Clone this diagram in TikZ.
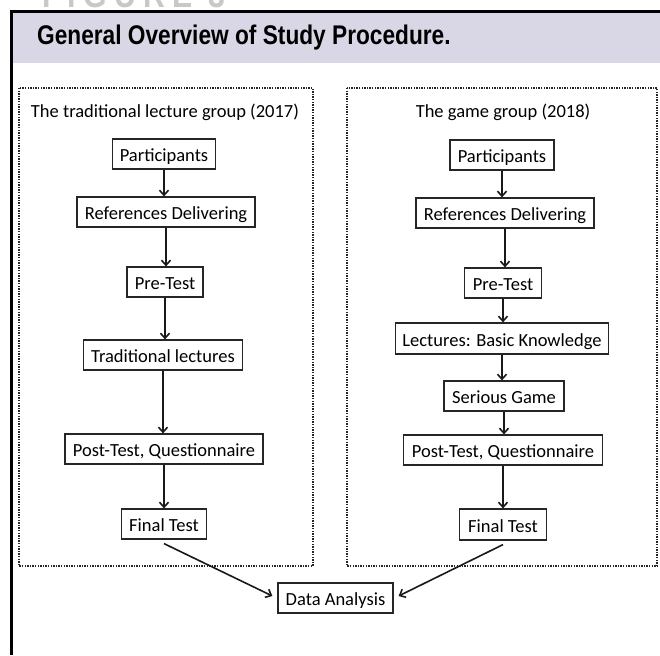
\documentclass[tikz,border=0pt]{standalone}
\usepackage{fontspec}
\setmainfont{Carlito}
\newfontfamily\titlefont[FakeStretch=0.84]{Liberation Sans}
\newfontfamily\figfont[FakeStretch=0.84,LetterSpace=20]{Liberation Sans}
\usetikzlibrary{arrows.meta}
\definecolor{band}{RGB}{217,215,229}
\definecolor{figgray}{RGB}{200,200,200}
\tikzset{
  stepbox/.style={draw=black!85, line width=1.2pt, inner sep=0pt, fill=white,
    font=\fontsize{18.5}{21}\selectfont, text height=15pt, text depth=0pt},
  grouptitle/.style={inner sep=0pt, font=\fontsize{18.5}{21}\selectfont},
  grpframe/.style={draw=black!85, line width=1.6pt, dash pattern=on 1.4pt off 1.2pt},
  arr/.style={draw=black!90, line width=1.6pt, -{Straight Barb[length=5pt,width=9pt]}},
}
\begin{document}
\begin{tikzpicture}[x=1pt,y=-1pt]
\useasboundingbox (0,0) rectangle (660,655);
% figure label (cut off at top, as in the source)
\begin{scope}
\clip (0,0) rectangle (660,655);
\node[anchor=base west, inner sep=0pt, text=figgray, font=\figfont\bfseries\fontsize{36}{40}\selectfont] (figlab) at (42,8) {FIGURE 3};
\end{scope}
% header band and frame
\fill[band] (12,13) rectangle (660,63);
\draw[line width=3pt] (660,12) -- (11.5,12) -- (11.5,655);
\node[anchor=base west, inner sep=0pt, font=\titlefont\bfseries\fontsize{27}{30}\selectfont] (title) at (37,45) {General Overview of Study Procedure.};
% group frames
\draw[grpframe] (19,88) rectangle (313,566);
\draw[grpframe] (347,88) rectangle (657,566);
\node[grouptitle] (ltitle) at (165,112) {The traditional lecture group (2017)};
\node[grouptitle] (rtitle) at (503,112) {The game group (2018)};
% left column
\node[stepbox, minimum width=103pt, minimum height=30pt] (lp) at (164,154) {Participants};
\node[stepbox, minimum width=178pt, minimum height=30pt] (lr) at (166,212) {References Delivering};
\node[stepbox, minimum width=76pt, minimum height=30pt] (lpre) at (165,282) {Pre-Test};
\node[stepbox, minimum width=159pt, minimum height=30pt] (ltl) at (163,355) {Traditional lectures};
\node[stepbox, minimum width=198pt, minimum height=30pt] (lpost) at (164,449) {Post-Test, Questionnaire};
\node[stepbox, minimum width=85pt, minimum height=30pt] (lfin) at (164,524) {Final Test};
% right column
\node[stepbox, minimum width=104pt, minimum height=30pt] (rp) at (502,155) {Participants};
\node[stepbox, minimum width=178pt, minimum height=30pt] (rr) at (505,213) {References Delivering};
\node[stepbox, minimum width=77pt, minimum height=30pt] (rpre) at (503,283) {Pre-Test};
\node[stepbox, minimum width=213pt, minimum height=31pt] (rlec) at (502,338.5) {Lectures: Basic Knowledge};
\node[stepbox, minimum width=120pt, minimum height=30pt] (rsg) at (504,396) {Serious Game};
\node[stepbox, minimum width=199pt, minimum height=30pt] (rpost) at (503,450) {Post-Test, Questionnaire};
\node[stepbox, minimum width=87pt, minimum height=31pt] (rfin) at (503,524.5) {Final Test};
% data analysis
\node[stepbox, minimum width=115pt, minimum height=30pt] (da) at (335.5,598) {Data Analysis};
% vertical arrows left
\draw[arr] (lp.south) -- (lp.south |- lr.north);
\draw[arr] (lr.south) -- (lr.south |- lpre.north);
\draw[arr] (lpre.south) -- (lpre.south |- ltl.north);
\draw[arr] (ltl.south) -- (ltl.south |- lpost.north);
\draw[arr] (lpost.south) -- (lpost.south |- lfin.north);
% vertical arrows right
\draw[arr] (rp.south) -- (rp.south |- rr.north);
\draw[arr] (rr.south) -- (rr.south |- rpre.north);
\draw[arr] (rpre.south) -- (rpre.south |- rlec.north);
\draw[arr] (rlec.south) -- (rlec.south |- rsg.north);
\draw[arr] (rsg.south) -- (rsg.south |- rpost.north);
\draw[arr] (rpost.south) -- (rpost.south |- rfin.north);
% converging arrows
\draw[arr] ([yshift=-4pt]lfin.south) -- ([xshift=-5pt,yshift=2pt]da.west);
\draw[arr] ([yshift=-4pt]rfin.south) -- ([xshift=5pt,yshift=2pt]da.east);
\end{tikzpicture}
\end{document}
